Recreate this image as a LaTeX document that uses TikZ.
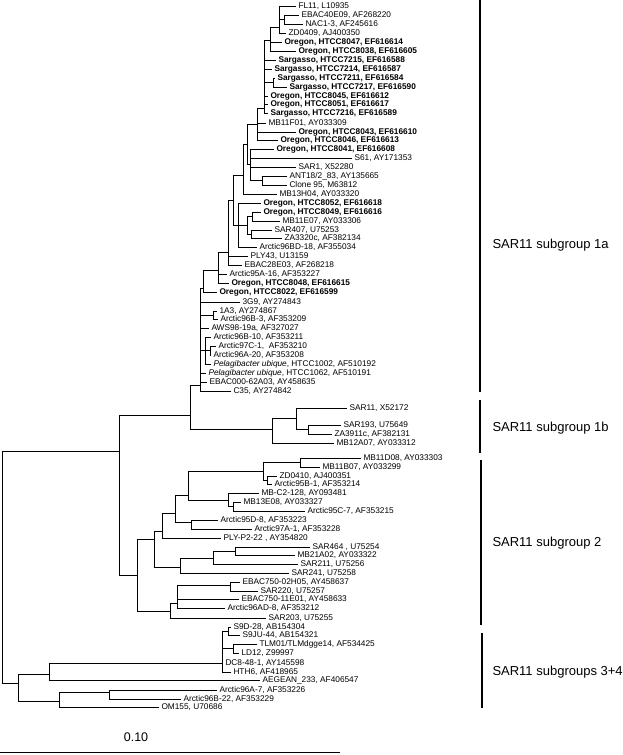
\documentclass[tikz,border=0pt]{standalone}
\usepackage{fontspec}
\setmainfont{Liberation Sans}
\begin{document}
\begin{tikzpicture}[x=1pt, y=-1pt, line width=1pt,
    leaf/.style={anchor=west, inner xsep=2pt, inner ysep=0pt, text height=5.9pt, text depth=0pt,
                 font=\fontsize{8.3}{9}\selectfont},
    bleaf/.style={leaf, font=\fontsize{8.3}{9}\selectfont\bfseries},
    group/.style={anchor=west, inner sep=0pt, font=\fontsize{13}{15}\selectfont},
    clade/.style={line width=1.3pt}]
    \useasboundingbox (0,0) rectangle (623,755);

    % subgroup 1a
    \node[leaf] (fl11) at (296,6) {FL11, L10935};
    \node[leaf] (ebac40) at (299,15) {EBAC40E09, AF268220};
    \node[leaf] (nac13) at (303,24) {NAC1-3, AF245616};
    \node[leaf] (zd0409) at (286,33) {ZD0409, AJ400350};
    \node[bleaf] (or8047) at (282,42) {Oregon, HTCC8047, EF616614};
    \node[bleaf] (or8038) at (296,51) {Oregon, HTCC8038, EF616605};
    \node[bleaf] (sa7215) at (276,60) {Sargasso, HTCC7215, EF616588};
    \node[bleaf] (sa7214) at (272,69) {Sargasso, HTCC7214, EF616587};
    \node[bleaf] (sa7211) at (275,78) {Sargasso, HTCC7211, EF616584};
    \node[bleaf] (sa7217) at (287,87) {Sargasso, HTCC7217, EF616590};
    \node[bleaf] (or8045) at (268,96) {Oregon, HTCC8045, EF616612};
    \node[bleaf] (or8051) at (268,104) {Oregon, HTCC8051, EF616617};
    \node[bleaf] (sa7216) at (268,113) {Sargasso, HTCC7216, EF616589};
    \node[leaf] (mb11f01) at (266,123) {MB11F01, AY033309};
    \node[bleaf] (or8043) at (296,132) {Oregon, HTCC8043, EF616610};
    \node[bleaf] (or8046) at (278,140) {Oregon, HTCC8046, EF616613};
    \node[bleaf] (or8041) at (274,149) {Oregon, HTCC8041, EF616608};
    \node[leaf] (s61) at (352,158) {S61, AY171353};
    \node[leaf] (sar1) at (296,167) {SAR1, X52280};
    \node[leaf] (ant18) at (287,176) {ANT18/2\_83, AY135665};
    \node[leaf] (clone95) at (287,185) {Clone 95, M63812};
    \node[leaf] (mb13h04) at (277,194) {MB13H04, AY033320};
    \node[bleaf] (or8052) at (261,203) {Oregon, HTCC8052, EF616618};
    \node[bleaf] (or8049) at (261,212) {Oregon, HTCC8049, EF616616};
    \node[leaf] (mb11e07) at (280,221) {MB11E07, AY033306};
    \node[leaf] (sar407) at (272,230) {SAR407, U75253};
    \node[leaf] (za3320) at (282,238) {ZA3320c, AF382134};
    \node[leaf] (arc96bd18) at (257,247) {Arctic96BD-18, AF355034};
    \node[leaf] (ply43) at (248,256) {PLY43, U13159};
    \node[leaf] (ebac28) at (242,265) {EBAC28E03, AF268218};
    \node[leaf] (arc95a16) at (227,274) {Arctic95A-16, AF353227};
    \node[bleaf] (or8048) at (229,283) {Oregon, HTCC8048, EF616615};
    \node[bleaf] (or8022) at (217,292) {Oregon, HTCC8022, EF616599};
    \node[leaf] (g39) at (240,302) {3G9, AY274843};
    \node[leaf] (a13) at (217,311) {1A3, AY274867};
    \node[leaf] (arc96b3) at (218,319) {Arctic96B-3, AF353209};
    \node[leaf] (aws98) at (209,328) {AWS98-19a, AF327027};
    \node[leaf] (arc96b10) at (211,337) {Arctic96B-10, AF353211};
    \node[leaf] (arc97c1) at (216,346) {Arctic97C-1, \ AF353210};
    \node[leaf] (arc96a20) at (211,355) {Arctic96A-20, AF353208};
    \node[leaf] (pel1002) at (211,364) {\textit{Pelagibacter ubique}, HTCC1002, AF510192};
    \node[leaf] (pel1062) at (206,373) {\textit{Pelagibacter ubique}, HTCC1062, AF510191};
    \node[leaf] (ebac000) at (207,382) {EBAC000-62A03, AY458635};
    \node[leaf] (c35) at (231,391) {C35, AY274842};

    \coordinate (a2) at (284,19.5);
    \coordinate (a1) at (279,27);
    \coordinate (a3) at (270,40);
    \coordinate (a5) at (273,82.5);
    \coordinate (a4) at (264,108);
    \coordinate (a6) at (257,124);
    \coordinate (a9) at (262,180.5);
    \coordinate (a8) at (250,164);
    \coordinate (a10) at (247,144);
    \coordinate (a11) at (243,175);
    \coordinate (b2) at (252,216.5);
    \coordinate (b3) at (251,234);
    \coordinate (b1) at (247,225);
    \coordinate (b0) at (238,225);
    \coordinate (a12) at (233,200);
    \coordinate (f0) at (228,252);
    \coordinate (d1) at (218,270);
    \coordinate (d0) at (203,288);
    \coordinate (e1) at (213,315);
    \coordinate (e3) at (210,350.5);
    \coordinate (e2) at (205,350);
    \coordinate (r1a) at (200,385);

    \draw (a2) |- (ebac40.west) (a2) |- (nac13.west);
    \draw (a1) |- (fl11.west) (a1) |- (a2) (a1) |- (zd0409.west);
    \draw (a3) |- (a1) (a3) |- (or8047.west) (a3) |- (or8038.west);
    \draw (a5) |- (sa7211.west) (a5) |- (sa7217.west);
    \draw (a4) |- (a3) (a4) |- (sa7215.west) (a4) |- (sa7214.west) (a4) |- (a5)
          (a4) |- (or8045.west) (a4) |- (or8051.west) (a4) |- (sa7216.west);
    \draw (a6) |- (a4) (a6) |- (mb11f01.west) (a6) |- (or8043.west) (a6) |- (or8046.west);
    \draw (a9) |- (ant18.west) (a9) |- (clone95.west);
    \draw (a8) |- (or8041.west) (a8) |- (s61.west) (a8) |- (sar1.west) (a8) |- (a9);
    \draw (a10) |- (a6) (a10) |- (a8);
    \draw (a11) |- (a10) (a11) |- (mb13h04.west);
    \draw (b2) |- (or8049.west) (b2) |- (mb11e07.west);
    \draw (b3) |- (sar407.west) (b3) |- (za3320.west);
    \draw (b1) |- (b2) (b1) |- (b3);
    \draw (b0) |- (or8052.west) (b0) |- (b1) (b0) |- (arc96bd18.west);
    \draw (a12) |- (a11) (a12) |- (b0);
    \draw (f0) |- (a12) (f0) |- (ply43.west) (f0) |- (ebac28.west);
    \draw (d1) |- (f0) (d1) |- (arc95a16.west) (d1) |- (or8048.west);
    \draw (d0) |- (d1) (d0) |- (or8022.west);
    \draw (e1) |- (a13.west) (e1) |- (arc96b3.west);
    \draw (e3) |- (arc97c1.west) (e3) |- (arc96a20.west);
    \draw (e2) |- (arc96b10.west) (e2) |- (e3) (e2) |- (pel1002.west);
    \draw (r1a) |- (d0) (r1a) |- (g39.west) (r1a) |- (e1) (r1a) |- (aws98.west)
          (r1a) |- (e2) (r1a) |- (pel1062.west) (r1a) |- (ebac000.west) (r1a) |- (c35.west);

    % subgroup 1b
    \node[leaf] (sar11) at (347,408) {SAR11, X52172};
    \node[leaf] (sar193) at (341,425) {SAR193, U75649};
    \node[leaf] (za3911) at (332,434) {ZA3911c, AF382131};
    \node[leaf] (mb12a07) at (334,443) {MB12A07, AY033312};

    \coordinate (g2) at (308,429.5);
    \coordinate (g1) at (296,418);
    \coordinate (n1b) at (272,429);
    \coordinate (n1) at (190,415);

    \draw (g2) |- (sar193.west) (g2) |- (za3911.west);
    \draw (g1) |- (sar11.west) (g1) |- (g2);
    \draw (n1b) |- (g1) (n1b) |- (mb12a07.west);
    \draw (n1) |- (r1a) (n1) |- (n1b);

    % subgroup 2
    \node[leaf] (mb11d08) at (361,458) {MB11D08, AY033303};
    \node[leaf] (mb11b07) at (320,467) {MB11B07, AY033299};
    \node[leaf] (zd0410) at (277,476) {ZD0410, AJ400351};
    \node[leaf] (arc95b1) at (272,484) {Arctic95B-1, AF353214};
    \node[leaf] (mbc2) at (259,493) {MB-C2-128, AY093481};
    \node[leaf] (mb13e08) at (241,502) {MB13E08, AY033327};
    \node[leaf] (arc95c7) at (305,511) {Arctic95C-7, AF353215};
    \node[leaf] (arc95d8) at (218,520) {Arctic95D-8, AF353223};
    \node[leaf] (arc97a1) at (252,529) {Arctic97A-1, AF353228};
    \node[leaf] (plyp2) at (221,538) {PLY-P2-22 , AY354820};
    \node[leaf] (sar464) at (310,547) {SAR464 , U75254};
    \node[leaf] (mb21a02) at (295,555) {MB21A02, AY033322};
    \node[leaf] (sar211) at (298,564) {SAR211, U75256};
    \node[leaf] (sar241) at (289,573) {SAR241, U75258};
    \node[leaf] (ebac02h05) at (240,582) {EBAC750-02H05, AY458637};
    \node[leaf] (sar220) at (258,591) {SAR220, U75257};
    \node[leaf] (ebac11e01) at (239,599) {EBAC750-11E01, AY458633};
    \node[leaf] (arc96ad8) at (225,608) {Arctic96AD-8, AF353212};
    \node[leaf] (sar203) at (266,618) {SAR203, U75255};

    \coordinate (n2e) at (300,462.5);
    \coordinate (n2f) at (267,480);
    \coordinate (n2d) at (263,471);
    \coordinate (n2h) at (233,506.5);
    \coordinate (n2g) at (228,500);
    \coordinate (n2c) at (188,495);
    \coordinate (n2i) at (191,522);
    \coordinate (n2q) at (175,513);
    \coordinate (n2b) at (162,531);
    \coordinate (n2m) at (235,551);
    \coordinate (n2l) at (213,558);
    \coordinate (n2k) at (180,567);
    \coordinate (n2a) at (154,539);
    \coordinate (n2o) at (230,585);
    \coordinate (n2n) at (177,603);
    \coordinate (n2j) at (170,611);
    \coordinate (n2) at (137,575);

    \draw (n2e) |- (mb11d08.west) (n2e) |- (mb11b07.west);
    \draw (n2f) |- (zd0410.west) (n2f) |- (arc95b1.west);
    \draw (n2d) |- (n2e) (n2d) |- (n2f);
    \draw (n2h) |- (mb13e08.west) (n2h) |- (arc95c7.west);
    \draw (n2g) |- (mbc2.west) (n2g) |- (n2h);
    \draw (n2c) |- (n2d) (n2c) |- (n2g);
    \draw (n2i) |- (arc95d8.west) (n2i) |- (arc97a1.west);
    \draw (n2q) |- (n2c) (n2q) |- (n2i);
    \draw (n2b) |- (n2q) (n2b) |- (plyp2.west);
    \draw (n2m) |- (sar464.west) (n2m) |- (mb21a02.west);
    \draw (n2l) |- (n2m) (n2l) |- (sar211.west);
    \draw (n2k) |- (n2l) (n2k) |- (sar241.west);
    \draw (n2a) |- (n2b) (n2a) |- (n2k);
    \draw (n2o) |- (ebac02h05.west) (n2o) |- (sar220.west);
    \draw (n2n) |- (n2o) (n2n) |- (ebac11e01.west) (n2n) |- (arc96ad8.west);
    \draw (n2j) |- (n2n) (n2j) |- (sar203.west);
    \draw (n2) |- (n2a) (n2) |- (n2j);

    % subgroups 3+4
    \node[leaf] (s9d28) at (231,627) {S9D-28, AB154304};
    \node[leaf] (s9ju44) at (240,635) {S9JU-44, AB154321};
    \node[leaf] (tlm01) at (257,644) {TLM01/TLMdgge14, AF534425};
    \node[leaf] (ld12) at (239,653) {LD12, Z99997};
    \node[leaf] (dc848) at (223,663) {DC8-48-1, AY145598};
    \node[leaf] (hth6) at (231,672) {HTH6, AF418965};
    \node[leaf] (aegean) at (260,680) {AEGEAN\_233, AF406547};
    \node[leaf] (arc96a7) at (217,690) {Arctic96A-7, AF353226};
    \node[leaf] (arc96b22) at (181,699) {Arctic96B-22, AF353229};
    \node[leaf] (om155) at (159,707) {OM155, U70686};

    \coordinate (n3c1) at (228,631);
    \coordinate (n3c2) at (233,648.5);
    \coordinate (n3b) at (222,663);
    \coordinate (n3a) at (49,674);
    \coordinate (n3e) at (109,692);
    \coordinate (n3d) at (59,701);
    \coordinate (n3) at (18,683);
    \coordinate (n0) at (119,451);
    \coordinate (root) at (2,567);

    \draw (n3c1) |- (s9d28.west) (n3c1) |- (s9ju44.west);
    \draw (n3c2) |- (tlm01.west) (n3c2) |- (ld12.west);
    \draw (n3b) |- (n3c1) (n3b) |- (n3c2) (n3b) |- (dc848.west) (n3b) |- (hth6.west);
    \draw (n3a) |- (n3b) (n3a) |- (aegean.west);
    \draw (n3e) |- (arc96a7.west) (n3e) |- (arc96b22.west);
    \draw (n3d) |- (n3e) (n3d) |- (om155.west);
    \draw (n3) |- (n3a) (n3) |- (n3d);
    \draw (n0) |- (n1) (n0) |- (n2);
    \draw (root) |- (n0) (root) |- (n3);

    % groups
    \draw[clade] (480,0) -- (480,392);
    \draw[clade] (480,400) -- (480,453);
    \draw[clade] (481,460) -- (481,625);
    \draw[clade] (482,633) -- (482,708);
    \node[group] (sub1a) at (492,245) {SAR11 subgroup 1a};
    \node[group] (sub1b) at (492,428) {SAR11 subgroup 1b};
    \node[group] (sub2) at (492,543) {SAR11 subgroup 2};
    \node[group] (sub34) at (492,672) {SAR11 subgroups 3+4};

    % scale
    \node[font=\fontsize{12.5}{14}\selectfont] (scale) at (136,737) {0.10};
    \draw (0,752) -- (340,752);
\end{tikzpicture}
\end{document}
